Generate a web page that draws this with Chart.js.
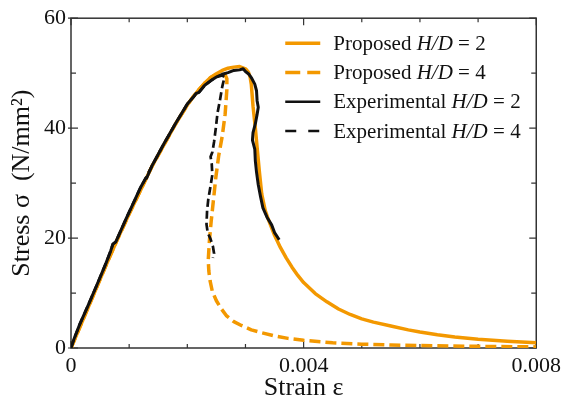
<!DOCTYPE html>
<html>
<head>
<meta charset="utf-8">
<script src="https://cdn.jsdelivr.net/npm/chart.js@4/dist/chart.umd.min.js"></script>
<style>
	html, body { margin: 0; padding: 0; background: #ffffff; }
	#wrap { width: 566px; height: 412px; }
</style>
</head>
<body>
<div id="wrap"><canvas id="main_chart"></canvas></div>
<script>
// values
const propH2Strain = [0, 0.0002, 0.0004, 0.0006, 0.0008, 0.001, 0.0012, 0.0014, 0.0016, 0.0018, 0.002, 0.0021, 0.0022, 0.0023, 0.0024, 0.0025,
	0.0026, 0.0027, 0.0028, 0.0029, 0.003, 0.00305, 0.00308, 0.0031, 0.00313, 0.00317, 0.0032, 0.00324, 0.00328, 0.00334, 0.0034, 0.0035,
	0.0036, 0.0037, 0.0038, 0.0039, 0.004, 0.0042, 0.0044, 0.0046, 0.0048, 0.005, 0.0052, 0.0055, 0.0058, 0.006, 0.0063, 0.0066, 0.007,
	0.0075, 0.008];
const propH2Stress = [0, 5.0, 10.0, 15.0, 19.8, 24.4, 28.8, 33.2, 37.0, 40.8, 44.2, 45.7, 47.0, 48.2, 49.2, 49.9,
	50.5, 50.9, 51.1, 51.2, 50.8, 50.2, 49.3, 48.0, 44.0, 40.0, 36.5, 32.0, 28.0, 25.0, 23.2, 20.5,
	18.3, 16.4, 14.7, 13.2, 11.9, 9.9, 8.4, 7.1, 6.1, 5.3, 4.7, 4.0, 3.3, 2.9, 2.4, 2.0, 1.6,
	1.25, 0.95];

const propH4Strain = [0, 0.0002, 0.0004, 0.0006, 0.0008, 0.001, 0.0012, 0.0014, 0.0016, 0.0018, 0.002, 0.0021, 0.0022, 0.0023, 0.0024, 0.0025,
	0.0026, 0.00265, 0.00268, 0.00268, 0.00265, 0.0026, 0.00254, 0.00249, 0.00245, 0.00241, 0.00238, 0.00236, 0.00237, 0.00239, 0.00243,
	0.0025, 0.00258, 0.00267, 0.0028, 0.00293, 0.0031, 0.00327, 0.0035, 0.00373, 0.004, 0.0045, 0.005, 0.0055, 0.006, 0.007, 0.008];
const propH4Stress = [0, 5.0, 10.0, 15.0, 19.8, 24.4, 28.8, 33.2, 37.0, 40.8, 44.2, 45.7, 47.0, 48.2, 49.2, 49.7,
	49.9, 49.7, 49.0, 47.0, 42.5, 38.5, 35.0, 31.0, 27.0, 23.0, 19.5, 16.0, 14.0, 12.3, 10.3,
	8.6, 7.2, 5.9, 4.8, 4.1, 3.3, 2.8, 2.2, 1.75, 1.4, 0.95, 0.7, 0.55, 0.45, 0.3, 0.2];

const expH2Strain = [0, 0.00005, 0.00015, 0.0003, 0.00045, 0.0006, 0.00068, 0.00072, 0.00077, 0.00085, 0.00095, 0.0011, 0.0012, 0.00128, 0.0013,
	0.0014, 0.0016, 0.0018, 0.002, 0.0021, 0.00215, 0.0022, 0.0023, 0.0024, 0.0025, 0.0026, 0.0027, 0.0028, 0.0029, 0.00296,
	0.003, 0.00306, 0.0031, 0.00316, 0.00319, 0.0032, 0.00322, 0.0032, 0.00317, 0.00313, 0.00312, 0.00316, 0.00317, 0.00319, 0.00322,
	0.00326, 0.0033, 0.00337, 0.00345, 0.0035, 0.00355, 0.00358];
const expH2Stress = [0, 1.6, 4.3, 7.9, 11.6, 15.4, 17.6, 18.9, 19.3, 21.2, 23.6, 27.0, 29.3, 30.8, 30.9,
	33.3, 37.2, 40.9, 44.4, 45.6, 46.3, 46.5, 47.8, 48.6, 49.3, 49.8, 50.1, 50.5, 50.6, 50.8,
	50.3, 49.8, 49.2, 48.0, 46.8, 45.0, 43.8, 42.5, 40.8, 39.2, 37.8, 36.2, 34.0, 32.0, 29.7,
	27.5, 25.5, 23.8, 22.4, 21.0, 20.2, 19.7];

const expH4Strain = [0, 0.00005, 0.00015, 0.0003, 0.00045, 0.0006, 0.00068, 0.00072, 0.00077, 0.00085, 0.00095, 0.0011, 0.0012, 0.00128,
	0.0014, 0.0016, 0.0018, 0.002, 0.0021, 0.00215, 0.0022, 0.0023, 0.0024, 0.0025, 0.0026, 0.00264,
	0.0026, 0.00256, 0.00252, 0.00249, 0.00246, 0.00243, 0.0024, 0.00242, 0.00243, 0.0024, 0.00236, 0.00234, 0.00233,
	0.00235, 0.0024, 0.00244, 0.00246, 0.00244];
const expH4Stress = [0, 1.6, 4.3, 7.9, 11.6, 15.4, 17.6, 18.9, 19.3, 21.2, 23.6, 27.0, 29.3, 30.8,
	33.3, 37.2, 40.9, 44.4, 45.6, 46.3, 46.5, 47.8, 48.6, 49.3, 49.6, 49.3,
	47.5, 45.0, 42.8, 40.0, 37.5, 35.6, 34.8, 33.5, 31.5, 29.5, 27.0, 25.0, 22.5,
	21.0, 19.8, 18.5, 17.2, 16.4];

const xTicks = [0, 0.004, 0.008];
const yTicks = [0, 20, 40, 60];
const legendNames = ["Proposed", "Proposed", "Experimental", "Experimental"];
const legendRatios = ["2", "4", "2", "4"];

const orange = "#f39800";
const black = "#111111";
const serif = "'Liberation Serif', 'Times New Roman', serif";

function toPoints(xs, ys) {
	return xs.map((x, i) => ({x: x, y: ys[i]}));
}

const datasets = [
	{label: "Experimental H/D = 2", data: toPoints(expH2Strain, expH2Stress), borderColor: black, borderWidth: 3, borderDash: []},
	{label: "Experimental H/D = 4", data: toPoints(expH4Strain, expH4Stress), borderColor: black, borderWidth: 2.7, borderDash: [8, 4]},
	{label: "Proposed H/D = 2", data: toPoints(propH2Strain, propH2Stress), borderColor: orange, borderWidth: 3.5, borderDash: []},
	{label: "Proposed H/D = 4", data: toPoints(propH4Strain, propH4Stress), borderColor: orange, borderWidth: 3.5, borderDash: [11, 5]},
];
datasets.forEach(d => {
	d.showLine = true;
	d.pointRadius = 0;
	d.fill = false;
	d.tension = 0;
	d.borderJoinStyle = 'round';
});

// frame with inward ticks on all four sides
const framePlugin = {
	id: 'frame',
	beforeDatasetsDraw(chart) {
		const {ctx, chartArea: a, scales: {x, y}} = chart;
		ctx.save();
		ctx.strokeStyle = "#333333";
		ctx.lineWidth = 1.5;
		ctx.strokeRect(a.left, a.top, a.right - a.left, a.bottom - a.top);
		ctx.lineWidth = 1.2;
		ctx.beginPath();
		for (let k = 0; k <= 8; k++) {
			const px = x.getPixelForValue(k * 0.001);
			const len = k % 4 == 0 ? 7 : 4;
			ctx.moveTo(px, a.bottom); ctx.lineTo(px, a.bottom - len);
			ctx.moveTo(px, a.top); ctx.lineTo(px, a.top + len);
		}
		for (let k = 0; k <= 6; k++) {
			const py = y.getPixelForValue(k * 10);
			const len = k % 2 == 0 ? 7 : 5;
			ctx.moveTo(a.left - (k % 2 == 0 ? 3 : 0), py); ctx.lineTo(a.left + len, py);
			ctx.moveTo(a.right, py); ctx.lineTo(a.right - len, py);
		}
		ctx.stroke();
		ctx.restore();
	}
};

// legend with italic H/D
const legendPlugin = {
	id: 'sketchLegend',
	afterDraw(chart) {
		const {ctx, chartArea: a} = chart;
		const x0 = a.right - 251;
		const styles = [
			{color: orange, dash: [], width: 3.5},
			{color: orange, dash: [15, 7], width: 3.5},
			{color: black, dash: [], width: 2.5},
			{color: black, dash: [11, 12], width: 2.5},
		];
		ctx.save();
		for (let i = 0; i < 4; i++) {
			const yy = a.top + 25 + i * 29.3;
			ctx.strokeStyle = styles[i].color;
			ctx.lineWidth = styles[i].width;
			ctx.setLineDash(styles[i].dash);
			ctx.beginPath();
			ctx.moveTo(x0, yy);
			ctx.lineTo(x0 + 35, yy);
			ctx.stroke();
			ctx.setLineDash([]);
			ctx.fillStyle = "#111111";
			ctx.textBaseline = 'middle';
			let tx = x0 + 48;
			const parts = [
				[legendNames[i] + " ", "21px " + serif],
				["H/D", "italic 21px " + serif],
				[" = " + legendRatios[i], "21px " + serif],
			];
			parts.forEach(p => {
				ctx.font = p[1];
				ctx.fillText(p[0], tx, yy + 1);
				tx += ctx.measureText(p[0]).width;
			});
		}
		ctx.restore();
	}
};

new Chart(document.getElementById('main_chart'), {
	type: 'scatter',
	data: {datasets: datasets},
	options: {
		responsive: true,
		maintainAspectRatio: false,
		animation: false,
		layout: {padding: {top: 15, right: 29, left: 0, bottom: 0}},
		plugins: {
			legend: {display: false},
			tooltip: {enabled: false},
		},
		scales: {
			x: {
				type: 'linear',
				min: 0,
				max: 0.008,
				afterFit: s => { s.height = 64; },
				afterBuildTicks: s => { s.ticks = xTicks.map(v => ({value: v})); },
				grid: {display: false, drawTicks: false},
				border: {display: false},
				ticks: {
					color: "#111111",
					padding: 5,
					maxRotation: 0,
					font: {family: serif, size: 22},
					callback: v => v == 0 ? "0" : v.toFixed(3),
				},
				title: {
					display: true,
					text: "Strain ε",
					color: "#111111",
					padding: {top: 0, bottom: 8},
					font: {family: serif, size: 26},
				},
			},
			y: {
				min: 0,
				max: 60,
				afterFit: s => { s.width = 71; },
				afterBuildTicks: s => { s.ticks = yTicks.map(v => ({value: v})); },
				grid: {display: false, drawTicks: false},
				border: {display: false},
				ticks: {
					color: "#111111",
					padding: 5,
					font: {family: serif, size: 22},
				},
				title: {
					display: true,
					text: "Stress σ  (N/mm²)",
					color: "#111111",
					padding: {top: 7, bottom: 0},
					font: {family: serif, size: 26},
				},
			},
		},
	},
	plugins: [framePlugin, legendPlugin],
});
</script>
</body>
</html>
